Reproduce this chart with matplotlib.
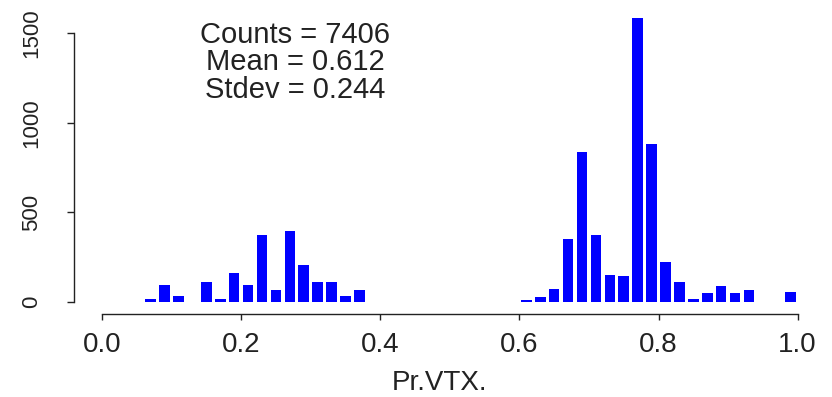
import matplotlib
matplotlib.use("Agg")
import matplotlib.pyplot as plt
import numpy as np

# Histogram of Pr.VTX. (bin width 0.02); bin_starts are left bin edges
bin_starts = [0.06, 0.08, 0.10, 0.12, 0.14, 0.16, 0.18, 0.20, 0.22, 0.24,
              0.26, 0.28, 0.30, 0.32, 0.34, 0.36,
              0.60, 0.62, 0.64, 0.66, 0.68, 0.70, 0.72, 0.74, 0.76, 0.78,
              0.80, 0.82, 0.84, 0.86, 0.88, 0.90, 0.92, 0.98]
counts = [15, 93, 32, 0, 110, 15, 160, 93, 374, 65,
          396, 207, 112, 112, 32, 65,
          12, 24, 71, 350, 834, 372, 151, 143, 1585, 881,
          222, 110, 15, 48, 87, 48, 63, 55]
bin_width = 0.02

x_ticks = [0.0, 0.2, 0.4, 0.6, 0.8, 1.0]
x_ticklabels = ["0.0", "0.2", "0.4", "0.6", "0.8", "1.0"]
y_ticks = [0, 500, 1000, 1500]
y_ticklabels = ["0", "500", "1000", "1500"]

stats_lines = ["Counts = 7406", "Mean = 0.612", "Stdev = 0.244"]
x_label = "Pr.VTX."

plt.rcParams["font.family"] = ["Liberation Sans", "DejaVu Sans"]

W, H = 832, 397
fig = plt.figure(figsize=(W / 100, H / 100), dpi=100)
ax = fig.add_axes([74.2 / W, (H - 314) / H, 751.3 / W, 309 / H])

centers = np.array(bin_starts) + bin_width / 2
ax.bar(centers, counts, width=0.0152, color="#0000FF", edgecolor="none",
       align="center", zorder=2)

ax.set_xlim(-0.04, 1.04)
ax.set_ylim(-68.7, 1658)

for side in ("top", "right"):
    ax.spines[side].set_visible(False)
ax.spines["left"].set_bounds(0, 1500)
ax.spines["bottom"].set_bounds(0, 1)
for side in ("left", "bottom"):
    ax.spines[side].set_linewidth(1.0)
    ax.spines[side].set_color("#222222")

ax.set_xticks(x_ticks)
ax.set_xticklabels(x_ticklabels, fontsize=20, color="#222222")
ax.set_yticks(y_ticks)
ax.set_yticklabels(y_ticklabels, fontsize=16, color="#222222", rotation=90)
for lbl in ax.get_yticklabels():
    lbl.set_va("center")
ax.tick_params(axis="x", direction="out", length=4.3, width=1.0,
               color="#222222", pad=9)
ax.tick_params(axis="y", direction="out", length=5.0, width=1.0,
               color="#222222", pad=18)

# summary statistics
for i, line in enumerate(stats_lines):
    fig.text(295 / W, 1 - (35 + 27.5 * i) / H, line, fontsize=21,
             ha="center", va="center", color="#222222")

fig.text(440 / W, 1 - 383 / H, x_label, fontsize=20, ha="center",
         va="center", color="#222222")

fig.savefig("out.png", dpi=100, facecolor="white")
